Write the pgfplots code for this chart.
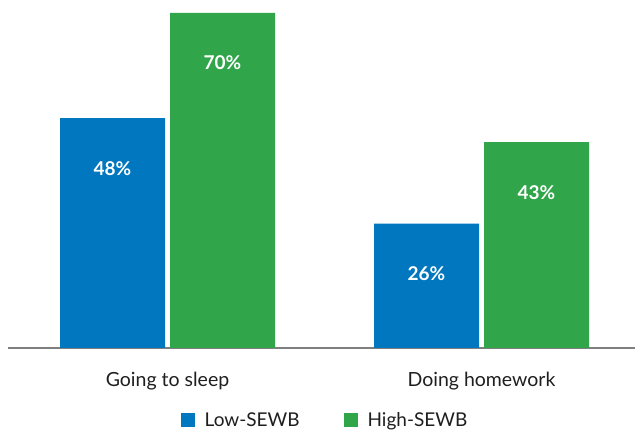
\documentclass[border=0pt]{standalone}
\usepackage{fontspec}
\setmainfont{Lato}
\usepackage{pgfplots}
\pgfplotsset{compat=1.18}
\definecolor{lowblue}{HTML}{0077BE}
\definecolor{highgreen}{HTML}{30A54A}
\definecolor{axgray}{HTML}{7F7F7F}
\begin{document}
\begin{tikzpicture}[x=1pt,y=1pt]
\useasboundingbox (0,0) rectangle (635,434);
\begin{axis}[
  at={(8pt,86pt)}, anchor=south west,
  scale only axis, width=627pt, height=348pt,
  xmin=8, xmax=635, ymin=0, ymax=72.7,
  axis x line*=bottom, axis y line=none,
  x axis line style={-, axgray, line width=2.2pt},
  xtick={167.5,481.5}, xticklabels={Going to sleep, Doing homework},
  major tick length=0pt,
  xticklabel style={font=\fontsize{19.5}{22}\selectfont, text=black!88, yshift=-21pt},
  ytick=\empty,
  clip=false,
  nodes near coords={\pgfmathprintnumber[assume math mode=true]{\pgfplotspointmeta}\%},
  nodes near coords style={font=\fontsize{19}{22}\selectfont\bfseries, text=white, anchor=center, yshift=-50pt},
  legend style={at={(317pt,0pt)}, anchor=north, yshift=-62pt, draw=none, font=\fontsize{19}{22}\selectfont, text=black!88, legend columns=2, inner sep=0pt,
    /tikz/column 1/.style={column sep=8pt},
    /tikz/column 2/.style={column sep=42pt},
    /tikz/column 3/.style={column sep=8pt}},
  legend image code/.code={\fill[#1] (0pt,-7.5pt) rectangle (14pt,7pt);},
]
\addplot[ybar, bar width=105, bar shift=0pt, fill=lowblue, draw=none] coordinates {(112.5,48) (426.5,26)};
\addlegendentry{Low-SEWB}
\addplot[ybar, bar width=105, bar shift=0pt, fill=highgreen, draw=none] coordinates {(222.5,70) (536.5,43)};
\addlegendentry{High-SEWB}
\end{axis}
\end{tikzpicture}
\end{document}
